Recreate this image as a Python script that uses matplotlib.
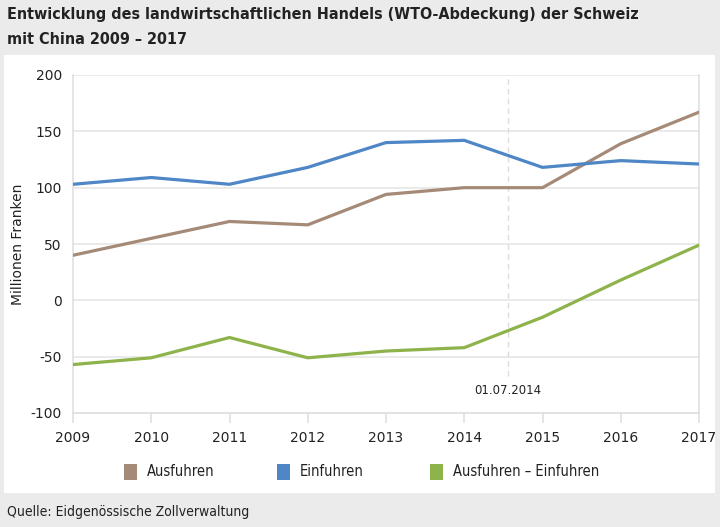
import matplotlib
matplotlib.use("Agg")
import matplotlib.pyplot as plt
from matplotlib.patches import Rectangle

years = [2009, 2010, 2011, 2012, 2013, 2014, 2015, 2016, 2017]
ausfuhren = [40, 55, 70, 67, 94, 100, 100, 139, 167]
einfuhren = [103, 109, 103, 118, 140, 142, 118, 124, 121]
saldo = [-57, -51, -33, -51, -45, -42, -15, 18, 49]
yticks = [-100, -50, 0, 50, 100, 150, 200]
marker_date = 2014.56
marker_label = "01.07.2014"

c_aus = '#a58a78'
c_ein = '#4f86c6'
c_sal = '#8db34a'

cond = dict(family='DejaVu Sans', fontstretch='condensed')

fig = plt.figure(figsize=(7.2, 5.27), dpi=100)
fig.patch.set_facecolor('#ebebeb')
fig.patches.append(Rectangle((4/720, 1-493/527), 711/720, 438/527, transform=fig.transFigure,
                             facecolor='white', edgecolor='none', zorder=-5))

fig.text(7/720, 1-15/527, "Entwicklung des landwirtschaftlichen Handels (WTO-Abdeckung) der Schweiz",
         ha='left', va='center', fontsize=11.5, fontweight='bold', color='#222222', **cond)
fig.text(7/720, 1-39/527, "mit China 2009 – 2017",
         ha='left', va='center', fontsize=11.5, fontweight='bold', color='#222222', **cond)
fig.text(7/720, 1-512/527, "Quelle: Eidgenössische Zollverwaltung", ha='left', va='center',
         fontsize=10, color='#222222', **cond)

ax = fig.add_axes([73/720, 1-413/527, 626/720, 338/527], zorder=2)
ax.set_facecolor('none')
ax.set_xlim(2009, 2017)
ax.set_ylim(-100, 200)
ax.set_yticks(yticks)
ax.set_yticklabels([str(v) for v in yticks])
ax.set_xticks(years)
ax.set_xticklabels([str(y) for y in years])
for v in yticks:
    ax.axhline(v, color='#e6e6e6', lw=1.2, zorder=1)
ax.spines['top'].set_visible(False)
for s in ['left', 'right', 'bottom']:
    ax.spines[s].set_color('#e0e0e0')
    ax.spines[s].set_linewidth(1.2)
ax.tick_params(axis='y', length=0, labelsize=10, colors='#222222', pad=8)
ax.tick_params(axis='x', length=7, width=1.2, color='#e0e0e0', labelsize=10, labelcolor='#222222', pad=6)

ax.plot(years, ausfuhren, color=c_aus, lw=2.3, zorder=3)
ax.plot(years, einfuhren, color=c_ein, lw=2.3, zorder=3)
ax.plot(years, saldo, color=c_sal, lw=2.3, zorder=3)

ax.plot([marker_date, marker_date], [-67, 200], color='#dcdcdc', lw=1, ls=(0, (4, 3)), zorder=2)
ax.text(marker_date, -80, marker_label, ha='center', va='center', fontsize=8.5, color='#222222')

ax.set_ylabel("Millionen Franken", fontsize=10, color='#222222', va='center')
ax.yaxis.set_label_coords(-55/626, 0.5)

labels = ["Ausfuhren", "Einfuhren", "Ausfuhren – Einfuhren"]
cols = [c_aus, c_ein, c_sal]
xs = [124, 277, 430]
for x, lab, col in zip(xs, labels, cols):
    fig.patches.append(Rectangle((x/720, 1-480/527), 13/720, 16/527, transform=fig.transFigure,
                                 facecolor=col, edgecolor='none'))
    fig.text((x+23)/720, 1-472/527, lab, ha='left', va='center', fontsize=10.5, color='#222222', **cond)

fig.savefig("out.png", dpi=100, facecolor=fig.get_facecolor())
